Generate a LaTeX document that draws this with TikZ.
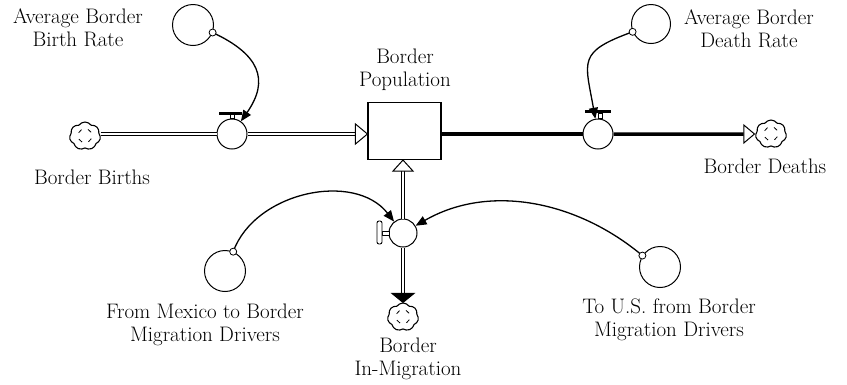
\documentclass[tikz,border=0pt]{standalone}
\usetikzlibrary{arrows.meta,shapes.symbols,positioning}
\tikzset{
  lbl/.style={font=\fontsize{21}{23}\selectfont, align=center, inner sep=0pt},
  auxvar/.style={circle, draw, line width=1pt, minimum size=41pt, inner sep=0pt},
  linkdot/.style={circle, draw, fill=white, line width=0.8pt, minimum size=7pt, inner sep=0pt},
  valve/.style={circle, draw, fill=white, line width=1pt, minimum size=30pt, inner sep=0pt},
  stockbox/.style={rectangle, draw, line width=1.1pt, minimum width=73pt, minimum height=57pt},
  sinkcloud/.style={cloud, cloud puffs=7, cloud puff arc=110, cloud ignores aspect, draw, line width=1.1pt,
    minimum width=31pt, minimum height=28pt, inner sep=0pt,
    path picture={\foreach \a in {30,120,210,300}
      \draw[line width=0.8pt] (path picture bounding box.center) ++(\a:7pt) arc[start angle=\a, delta angle=35, radius=7pt];}},
  pipe/.style={double, line width=1.1pt, double distance=2.2pt},
  outpipe/.style={line width=3.5pt},
  openhead/.style={draw, fill=white, line width=1pt, line join=miter},
  link/.style={line width=1.3pt, -{Triangle[length=11pt,width=9pt]}},
  handle/.style={line width=0.9pt, fill=white},
}
\begin{document}
\begin{tikzpicture}[x=1pt,y=-1pt]
  \useasboundingbox (0,0) rectangle (847,384);

  % Stock
  \node[stockbox] (pop) at (404.5,131) {};
  \node[lbl] (poplbl) at (405,70) {Border\\Population};

  % Births inflow
  \node[sinkcloud] (bcloud) at (85,136) {};
  \node[lbl] (bcloudlbl) at (92,177) {Border Births};
  \node[valve] (bvalve) at (232,134) {};
  \draw[pipe] (bcloud.east |- bvalve) -- (bvalve.west);
  \draw[pipe, shorten >=12pt] (bvalve.east) -- (bvalve.east -| pop.west);
  \draw[openhead] (bvalve.east -| pop.west) -- ++(-12,-10) -- ++(0,20) -- cycle;
  \draw[handle] ([xshift=-2pt]bvalve.north) rectangle ++(4pt,5pt);
  \draw[line width=3pt] ([shift={(-13pt,21pt)}]bvalve.center) -- ++(23pt,0);

  % Deaths outflow
  \node[valve] (dvalve) at (598,134) {};
  \node[sinkcloud] (dcloud) at (771,134) {};
  \node[lbl] (dcloudlbl) at (765,166) {Border Deaths};
  \draw[outpipe] (pop.east |- dvalve) -- (dvalve.west);
  \draw[outpipe, -{Triangle[open, length=12pt, width=20pt, line width=1pt]}] (dvalve.east) -- (dcloud.west);
  \draw[handle] ([xshift=0pt]dvalve.north) rectangle ++(4pt,5pt);
  \draw[line width=3pt] ([shift={(-13pt,23pt)}]dvalve.center) -- ++(26pt,0);

  % In-migration biflow
  \node[valve, minimum size=28pt] (mvalve) at (403,233) {};
  \node[sinkcloud] (mcloud) at (403,317) {};
  \node[lbl] (mcloudlbl) at (408,359) {Border\\In-Migration};
  \draw[pipe, shorten >=11pt] (mvalve.north) -- (mvalve |- pop.south);
  \draw[openhead] (mvalve |- pop.south) -- ++(-10,11) -- ++(20,0) -- cycle;
  \draw[pipe, shorten >=9pt] (mvalve.south) -- (mcloud.north);
  \draw[openhead, fill=black] (mcloud.north) -- ++(-11,-9) -- ++(22,0) -- cycle;
  \draw[handle] ([shift={(-21pt,-2pt)}]mvalve.center) rectangle ++(7pt,4pt);
  \draw[handle, rounded corners=2pt] ([shift={(-26pt,-11pt)}]mvalve.center) rectangle ++(5pt,23pt);

  % Auxiliaries
  \node[auxvar] (bbr) at (193,25) {};
  \node[lbl] (bbrlbl) at (78,28) {Average Border\\Birth Rate};
  \node[auxvar, minimum size=39pt] (bdr) at (651,24) {};
  \node[lbl] (bdrlbl) at (749,29) {Average Border\\Death Rate};
  \node[auxvar] (fmd) at (225,271) {};
  \node[lbl] (fmdlbl) at (205,325) {From Mexico to Border\\Migration Drivers};
  \node[auxvar] (tud) at (660,267) {};
  \node[lbl] (tudlbl) at (669,320) {To U.S. from Border\\Migration Drivers};

  % Links
  \draw[link] (bbr.-21) to[out=-25, in=55, looseness=1.4] (bvalve);
  \draw[link] (bdr.-157) to[out=200, in=100, looseness=1.6] (dvalve);
  \draw[link] (fmd.67) to[out=70, in=128, looseness=1.0] (mvalve);
  \draw[link] (tud.147) to[out=140, in=30, looseness=0.95] (mvalve);
  \node[linkdot] (bbrdot) at (bbr.-21) {};
  \node[linkdot] (bdrdot) at (bdr.-157) {};
  \node[linkdot] (fmddot) at (fmd.67) {};
  \node[linkdot] (tuddot) at (tud.147) {};
\end{tikzpicture}
\end{document}
